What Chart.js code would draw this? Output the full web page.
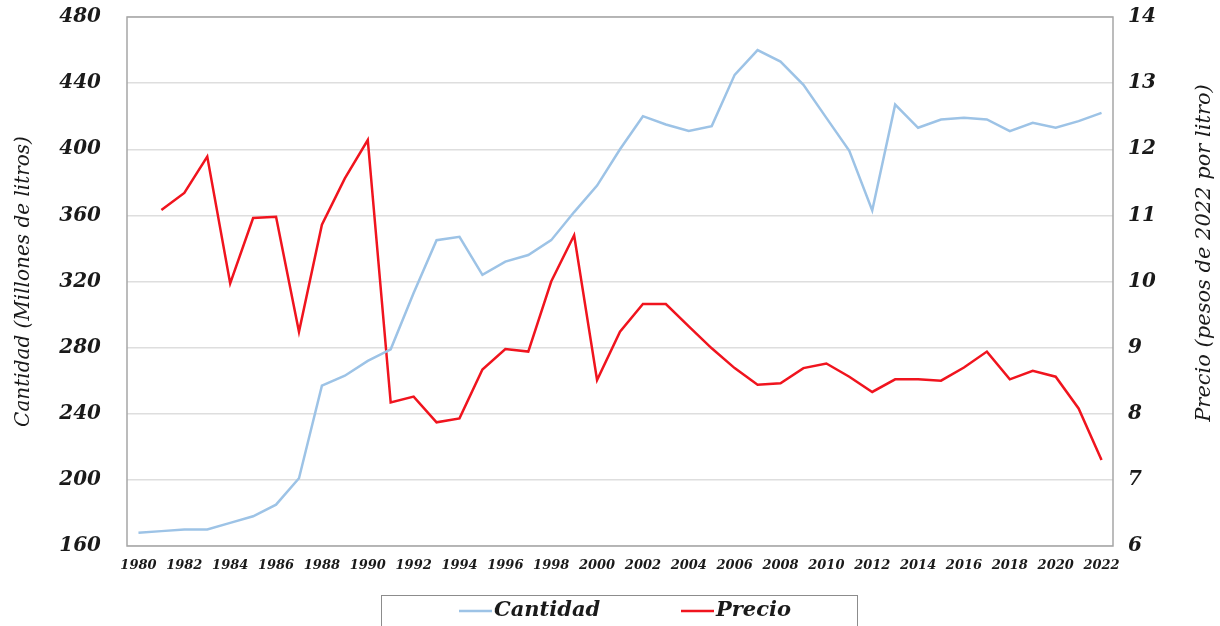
<!DOCTYPE html>
<html>
<head>
<meta charset="utf-8">
<title>Cantidad y precio</title>
<script src="https://cdn.jsdelivr.net/npm/chart.js"></script>
<style>
    html, body { margin: 0; padding: 0; background: #fff; }
    .wrap { width: 1220px; height: 626px; }
</style>
</head>
<body>
<div class="wrap"><canvas id="chart" width="1220" height="626"></canvas></div>
<script>
// datos
const years = [1980, 1981, 1982, 1983, 1984, 1985, 1986, 1987, 1988, 1989,
               1990, 1991, 1992, 1993, 1994, 1995, 1996, 1997, 1998, 1999,
               2000, 2001, 2002, 2003, 2004, 2005, 2006, 2007, 2008, 2009,
               2010, 2011, 2012, 2013, 2014, 2015, 2016, 2017, 2018, 2019,
               2020, 2021, 2022];
const cantidad = [168, 169, 170, 170, 174, 178, 185, 201, 257, 263,
                  272, 279, 313, 345, 347, 324, 332, 336, 345, 362,
                  378, 400, 420, 415, 411, 414, 445, 460, 453, 439,
                  419, 399, 363, 427, 413, 418, 419, 418, 411, 416,
                  413, 417, 422];
const precio = [null, 11.08, 11.34, 11.89, 9.97, 10.96, 10.98, 9.24, 10.86, 11.56,
                12.14, 8.17, 8.26, 7.87, 7.93, 8.67, 8.98, 8.94, 10.0, 10.70,
                8.51, 9.24, 9.66, 9.66, 9.32, 8.99, 8.69, 8.44, 8.46, 8.69,
                8.76, 8.56, 8.33, 8.52, 8.52, 8.50, 8.70, 8.94, 8.52, 8.65,
                8.56, 8.08, 7.30];
const leftTicks = [160, 200, 240, 280, 320, 360, 400, 440, 480];
const rightTicks = [6, 7, 8, 9, 10, 11, 12, 13, 14];

const serif = "'DejaVu Serif', 'Liberation Serif', serif";
const ink = '#1a1a1a';
const blue = '#9dc3e6';
const red = '#f0141e';

// marco del área, título derecho y leyenda con recuadro
const extras = {
    id: 'extras',
    beforeDatasetsDraw(chart) {
        const { ctx, chartArea: a } = chart;
        ctx.save();
        ctx.strokeStyle = '#a6a6a6';
        ctx.lineWidth = 1.5;
        ctx.strokeRect(a.left, a.top, a.right - a.left, a.bottom - a.top);
        ctx.restore();
    },
    afterDraw(chart) {
        const { ctx, chartArea: a } = chart;
        ctx.save();
        // título del eje derecho (se lee de abajo hacia arriba)
        ctx.translate(1205, 253);
        ctx.rotate(-Math.PI / 2);
        ctx.fillStyle = ink;
        ctx.font = 'italic 21px ' + serif;
        ctx.textAlign = 'center';
        ctx.textBaseline = 'middle';
        ctx.fillText('Precio (pesos de 2022 por litro)', 0, 0);
        ctx.restore();

        // leyenda
        const boxL = 381, boxT = a.bottom + 49, boxW = 476;
        ctx.save();
        ctx.strokeStyle = '#8c8c8c';
        ctx.lineWidth = 1;
        ctx.strokeRect(boxL + 0.5, boxT + 0.5, boxW, 60);
        const cy = boxT + 16;
        const items = [
            { ds: chart.data.datasets[0], x: boxL + 78 },
            { ds: chart.data.datasets[1], x: boxL + 300 }
        ];
        ctx.font = 'bold italic 21px ' + serif;
        ctx.textBaseline = 'middle';
        ctx.textAlign = 'left';
        items.forEach(it => {
            ctx.strokeStyle = it.ds.borderColor;
            ctx.lineWidth = it.ds.borderWidth;
            ctx.beginPath();
            ctx.moveTo(it.x, cy);
            ctx.lineTo(it.x + 33, cy);
            ctx.stroke();
            ctx.fillStyle = ink;
            ctx.fillText(it.ds.label, it.x + 35, cy);
        });
        ctx.restore();
    }
};

// marcas invisibles para separar las etiquetas sin inflar el margen superior
const hiddenTicks = len => ({ drawTicks: true, tickLength: len, tickColor: 'rgba(0,0,0,0)' });

new Chart(document.getElementById('chart'), {
    type: 'line',
    data: {
        labels: years,
        datasets: [{
            label: 'Cantidad',
            data: cantidad,
            yAxisID: 'y',
            borderColor: blue,
            borderWidth: 2.5,
            pointRadius: 0,
            tension: 0
        }, {
            label: 'Precio',
            data: precio,
            yAxisID: 'y1',
            borderColor: red,
            borderWidth: 2.5,
            pointRadius: 0,
            tension: 0
        }]
    },
    options: {
        responsive: false,
        animation: false,
        layout: { padding: { top: 17, bottom: 36, left: 0, right: 0 } },
        plugins: {
            legend: { display: false },
            tooltip: { enabled: false }
        },
        scales: {
            x: {
                offset: true,
                grid: { display: false, drawTicks: false },
                border: { display: false },
                afterFit(scale) { scale.height = 44; },
                ticks: {
                    autoSkip: false,
                    maxRotation: 0,
                    minRotation: 0,
                    padding: 12,
                    color: ink,
                    font: { family: serif, size: 13, style: 'italic', weight: 'bold' },
                    callback: (v, i) => (i % 2 === 0 ? years[i] : '')
                }
            },
            y: {
                position: 'left',
                min: leftTicks[0],
                max: leftTicks[leftTicks.length - 1],
                afterFit(scale) { scale.width = 127; },
                grid: Object.assign({ color: '#dedede', lineWidth: 1.5 }, hiddenTicks(26)),
                border: { display: false },
                ticks: {
                    stepSize: leftTicks[1] - leftTicks[0],
                    padding: 0,
                    color: ink,
                    font: { family: serif, size: 20, style: 'italic', weight: 'bold' }
                },
                title: {
                    display: true,
                    text: 'Cantidad (Millones de litros)',
                    color: ink,
                    padding: { top: 12, bottom: 0 },
                    font: { family: serif, size: 20, style: 'italic' }
                }
            },
            y1: {
                position: 'right',
                min: rightTicks[0],
                max: rightTicks[rightTicks.length - 1],
                afterFit(scale) { scale.width = 107; },
                grid: Object.assign({ display: true, drawOnChartArea: false }, hiddenTicks(15)),
                border: { display: false },
                ticks: {
                    stepSize: rightTicks[1] - rightTicks[0],
                    padding: 0,
                    color: ink,
                    font: { family: serif, size: 20, style: 'italic', weight: 'bold' }
                }
            }
        }
    },
    plugins: [extras]
});
</script>
</body>
</html>
